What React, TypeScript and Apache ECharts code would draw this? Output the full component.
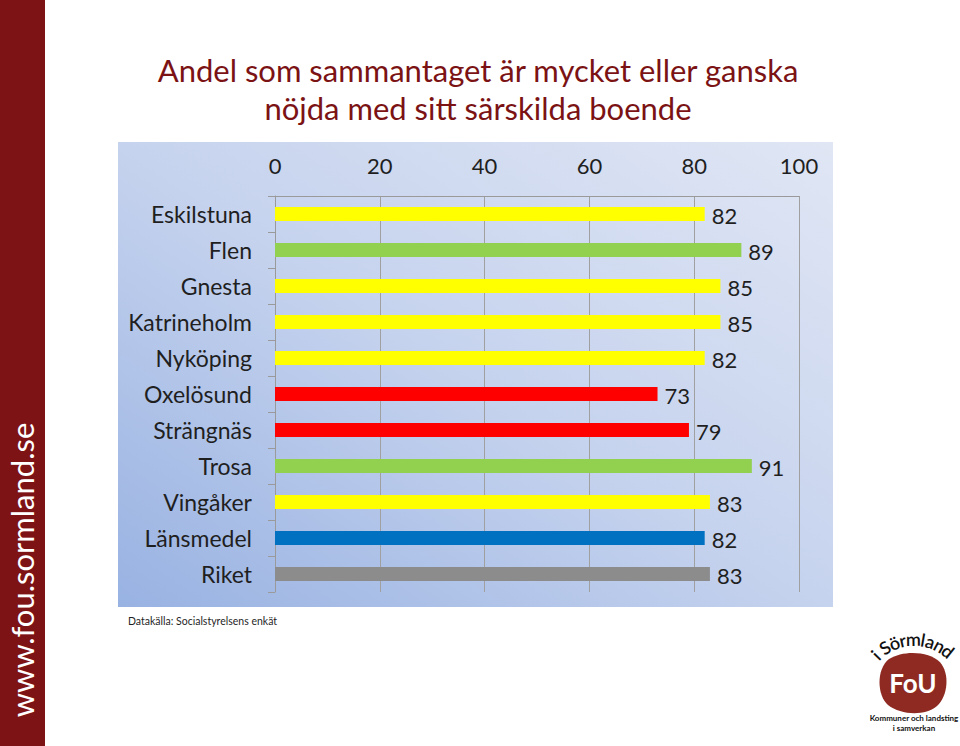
import React, { useEffect, useRef } from "react";
import * as echarts from "echarts";

const titleLines = ["Andel som sammantaget är mycket eller ganska", "nöjda med sitt särskilda boende"];
const categories = ["Eskilstuna", "Flen", "Gnesta", "Katrineholm", "Nyköping", "Oxelösund", "Strängnäs", "Trosa", "Vingåker", "Länsmedel", "Riket"];
const values = [82, 89, 85, 85, 82, 73, 79, 91, 83, 82, 83];
const groups = ["mid", "high", "mid", "mid", "mid", "low", "low", "high", "mid", "county", "nation"];
const axisMin = 0;
const axisMax = 100;
const axisStep = 20;
const sourceText = "Datakälla: Socialstyrelsens enkät";
const sideText = "www.fou.sormland.se";
const logoArc = "i Sörmland";
const logoMain = "FoU";
const logoSub = ["Kommuner och landsting", "i samverkan"];

const groupColors: Record<string, string> = {
  mid: "#FFFF00",
  high: "#92D050",
  low: "#FF0000",
  county: "#0070C0",
  nation: "#8C8C8C",
};

const FONT = "Lato, 'Open Sans', sans-serif";

echarts.graphic.registerShape(
  "fouBlob",
  echarts.graphic.extendPath(
    "M12 6 C26 -3 52 -2 63 9 C73 20 71 42 60 52 C48 62 24 61 11 51 C0 42 -1 16 12 6 Z",
    {}
  )
);

function arcChars() {
  const widths = [5, 4, 11, 10, 7, 15, 5, 10, 10, 10];
  const total = widths.reduce((a, b) => a + b, 0);
  const r = 54;
  const cx = 914;
  const cy = 693;
  const span = total / r;
  const start = (138 * Math.PI) / 180;
  let acc = 0;
  const out: any[] = [];
  logoArc.split("").forEach((ch, i) => {
    const mid = acc + widths[i] / 2;
    acc += widths[i];
    const th = start - (mid / total) * span;
    out.push({
      type: "text",
      x: cx + r * Math.cos(th),
      y: cy - r * Math.sin(th),
      rotation: th - Math.PI / 2,
      style: {
        text: ch,
        font: `600 18px ${FONT}`,
        fill: "#111",
        align: "center",
        verticalAlign: "middle",
      },
      z: 10,
    });
  });
  return out;
}

export default function App() {
  const ref = useRef<HTMLDivElement>(null);
  useEffect(() => {
    if (!ref.current) return;
    const chart = echarts.init(ref.current, null, { renderer: "svg" });
    const option: any = {
      animation: false,
      backgroundColor: "#ffffff",
      title: {
        text: titleLines.join("\n"),
        left: 473,
        top: 46,
        textAlign: "center",
        textStyle: {
          fontFamily: FONT,
          fontSize: 31,
          fontWeight: "normal",
          color: "#7B1214",
          lineHeight: 38,
        },
      },
      grid: { left: 275, right: 161, top: 196, bottom: 154, containLabel: false },
      xAxis: {
        type: "value",
        position: "top",
        min: axisMin,
        max: axisMax,
        interval: axisStep,
        axisLine: { show: true, lineStyle: { color: "#9A9A9A", width: 1 } },
        axisTick: { show: false },
        axisLabel: { fontFamily: FONT, fontSize: 22, color: "#1F1F1F", margin: 20 },
        splitLine: { show: true, lineStyle: { color: "#A0A0A0", width: 1 } },
      },
      yAxis: {
        type: "category",
        inverse: true,
        data: categories,
        axisLine: { show: true, lineStyle: { color: "#9A9A9A", width: 1 } },
        axisTick: { show: true, length: 7, lineStyle: { color: "#9A9A9A" } },
        axisLabel: { fontFamily: FONT, fontSize: 23, color: "#1F1F1F", margin: 23 },
        splitLine: { show: false },
      },
      series: [
        {
          type: "bar",
          barWidth: 14,
          data: values.map((v, i) => ({ value: v, itemStyle: { color: groupColors[groups[i]] } })),
          label: {
            show: true,
            position: "right",
            distance: 7,
            offset: [0, 1],
            fontFamily: FONT,
            fontSize: 22,
            color: "#1F1F1F",
          },
          z: 3,
        },
      ],
      graphic: [
        {
          type: "rect",
          shape: { x: 118, y: 142, width: 715, height: 465 },
          style: {
            fill: new echarts.graphic.LinearGradient(0, 1, 1, 0, [
              { offset: 0, color: "#98B2E2" },
              { offset: 0.5, color: "#C6D3EE" },
              { offset: 1, color: "#E0E6F4" },
            ]),
          },
          z: -10,
          silent: true,
        },
        {
          type: "rect",
          shape: { x: 0, y: 0, width: 45, height: 746 },
          style: { fill: "#7E1315" },
          z: 5,
          silent: true,
        },
        {
          type: "text",
          x: 22,
          y: 570,
          rotation: Math.PI / 2,
          style: {
            text: sideText,
            font: `31px ${FONT}`,
            fill: "#FFFFFF",
            align: "center",
            verticalAlign: "middle",
          },
          z: 6,
        },
        {
          type: "text",
          x: 128,
          y: 621,
          style: {
            text: sourceText,
            font: `10.5px ${FONT}`,
            fill: "#1F1F1F",
            align: "left",
            verticalAlign: "middle",
          },
        },
        {
          type: "fouBlob",
          x: 877,
          y: 653,
          scaleX: 1.0,
          scaleY: 1.02,
          style: { fill: "#8E2A22" },
          z: 8,
        },
        {
          type: "text",
          x: 913,
          y: 683,
          style: {
            text: logoMain,
            font: `bold 26px ${FONT}`,
            fill: "#FFFFFF",
            align: "center",
            verticalAlign: "middle",
          },
          z: 9,
        },
        {
          type: "text",
          x: 914,
          y: 718,
          style: {
            text: logoSub[0],
            font: `bold 8px ${FONT}`,
            fill: "#111",
            align: "center",
            verticalAlign: "middle",
          },
          z: 9,
        },
        {
          type: "text",
          x: 914,
          y: 728,
          style: {
            text: logoSub[1],
            font: `bold 8px ${FONT}`,
            fill: "#111",
            align: "center",
            verticalAlign: "middle",
          },
          z: 9,
        },
        ...arcChars(),
      ],
    };
    chart.setOption(option);
    return () => chart.dispose();
  }, []);
  return (
    <div
      ref={ref}
      style={{ position: "fixed", left: 0, top: 0, width: 960, height: 746 }}
    />
  );
}
